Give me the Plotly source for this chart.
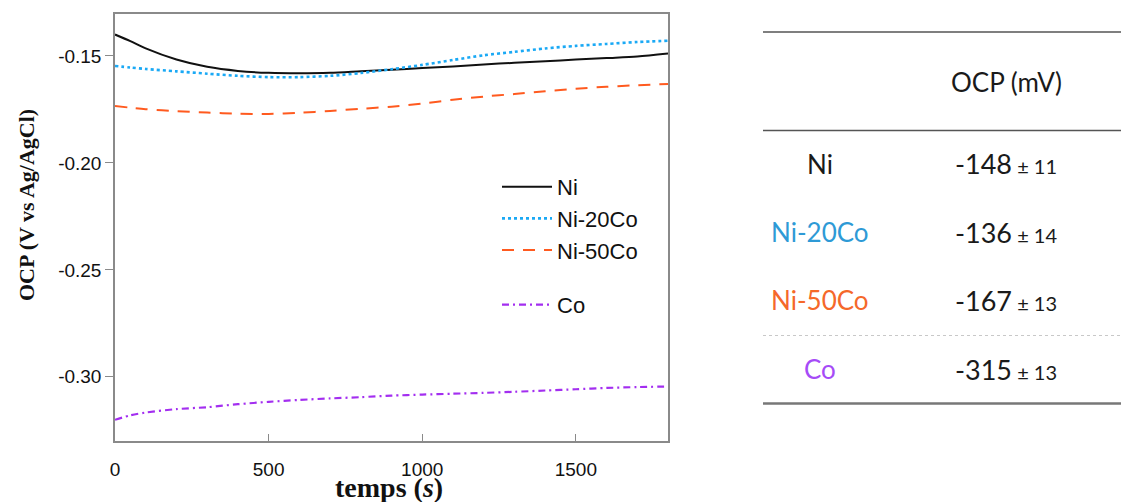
import plotly.graph_objects as go

# ---- data ----
temps = [0, 50, 100, 200, 300, 400, 500, 600, 700, 800, 900, 1000,
         1100, 1200, 1300, 1400, 1500, 1600, 1700, 1800]

ocp_ni = [-0.1400, -0.1431, -0.1465, -0.1517, -0.1551, -0.1570, -0.1579, -0.1581,
          -0.1579, -0.1572, -0.1565, -0.1557, -0.1549, -0.1540, -0.1532, -0.1525,
          -0.1517, -0.1510, -0.1503, -0.1489]
ocp_ni20co = [-0.1547, -0.1554, -0.1561, -0.1572, -0.1583, -0.1593, -0.1599, -0.1599,
              -0.1593, -0.1580, -0.1562, -0.1542, -0.1519, -0.1497, -0.1481, -0.1465,
              -0.1453, -0.1444, -0.1435, -0.1429]
ocp_ni50co = [-0.1734, -0.1742, -0.1749, -0.1758, -0.1765, -0.1770, -0.1771, -0.1766,
              -0.1757, -0.1747, -0.1737, -0.1723, -0.1705, -0.1690, -0.1678, -0.1665,
              -0.1653, -0.1644, -0.1637, -0.1631]
ocp_co = [-0.3201, -0.3180, -0.3167, -0.3151, -0.3142, -0.3128, -0.3117, -0.3108,
          -0.3101, -0.3095, -0.3088, -0.3083, -0.3079, -0.3075, -0.3070, -0.3064,
          -0.3058, -0.3052, -0.3048, -0.3045]

series_names = ["Ni", "Ni-20Co", "Ni-50Co", "Co"]
table_header = "OCP (mV)"
table_means = ["-148", "-136", "-167", "-315"]
table_sd = ["11", "14", "13", "13"]

x_ticks = [0, 500, 1000, 1500]
y_ticks = [-0.30, -0.25, -0.20, -0.15]
y_ticktext = ["-0.30", "-0.25", "-0.20", "-0.15"]

# ---- styles ----
line_colors = ["#111111", "#1AA9F5", "#FF5A1F", "#A32EF0"]
text_colors = ["#1A1A1A", "#2E9AD6", "#F5682A", "#A64BF7"]
dashes = ["solid", "dot", "12px,9px", "7px,4px,2px,4px"]
widths = [2, 2.6, 2, 2.2]
groups = ["a", "a", "a", "b"]

W, H = 1121, 502
L, R, T, B = 115, 668, 14, 441


def px(p):
    return (p - L) / (R - L)


def py(p):
    return (B - p) / (B - T)


fig = go.Figure()
for name, ys, c, d, w, g in zip(series_names, [ocp_ni, ocp_ni20co, ocp_ni50co, ocp_co],
                                line_colors, dashes, widths, groups):
    fig.add_trace(go.Scatter(x=temps, y=ys, mode="lines", name=name,
                             line=dict(color=c, dash=d, width=w, shape="spline", smoothing=0.8),
                             legendgroup=g))

axis_common = dict(showgrid=False, zeroline=False, showline=True, linecolor="#8a8a8a",
                   linewidth=1.5, mirror=True, tickcolor="#8a8a8a", tickwidth=1.2,
                   tickfont=dict(family="Liberation Sans, Arial", size=19, color="#111"))

fig.update_xaxes(range=[0, 1800], tickvals=x_ticks, ticks="inside", ticklen=7,
                 ticklabelstandoff=10, **axis_common)
fig.update_yaxes(range=[-0.33, -0.1304], tickvals=y_ticks, ticktext=y_ticktext,
                 ticks="outside", ticklen=8, **axis_common)

annotations = []
# axis titles
annotations.append(dict(text="<b>OCP (V vs Ag/AgCl)</b>", textangle=-90, xref="paper", yref="paper",
                        x=px(26), y=py(205), xanchor="center", yanchor="middle", showarrow=False,
                        font=dict(family="Liberation Serif, Times New Roman", size=22, color="#111")))
annotations.append(dict(text="<b>temps (<i>s</i>)</b>", xref="paper", yref="paper",
                        x=px(389), y=py(488), xanchor="center", yanchor="middle", showarrow=False,
                        font=dict(family="Liberation Serif, Times New Roman", size=28, color="#111")))

# table
tfont = "Lato, Open Sans, sans-serif"
annotations.append(dict(text=table_header, xref="paper", yref="paper", x=px(1006), y=py(82),
                        xanchor="center", yanchor="middle", showarrow=False,
                        font=dict(family=tfont, size=26, color="#1A1A1A")))
row_y = [164, 232, 300, 369]
for name, m, s, yy, tc in zip(series_names, table_means, table_sd, row_y, text_colors):
    annotations.append(dict(text=name, xref="paper", yref="paper", x=px(820), y=py(yy),
                            xanchor="center", yanchor="middle", showarrow=False,
                            font=dict(family=tfont, size=26, color=tc)))
    annotations.append(dict(text=f"{m}<span style='font-size:20px'> ± {s}</span>",
                            xref="paper", yref="paper", x=px(1006), y=py(yy),
                            xanchor="center", yanchor="middle", showarrow=False,
                            font=dict(family=tfont, size=27, color="#1A1A1A")))

shapes = [
    dict(type="line", xref="paper", yref="paper", x0=px(763), x1=px(1121), y0=py(32), y1=py(32),
         line=dict(color="#555", width=1.5)),
    dict(type="line", xref="paper", yref="paper", x0=px(763), x1=px(1121), y0=py(130.5), y1=py(130.5),
         line=dict(color="#555", width=1.5)),
    dict(type="line", xref="paper", yref="paper", x0=px(763), x1=px(1121), y0=py(335.5), y1=py(335.5),
         line=dict(color="#c8c8c8", width=1, dash="dot")),
    dict(type="line", xref="paper", yref="paper", x0=px(763), x1=px(1121), y0=py(403.5), y1=py(403.5),
         line=dict(color="#777", width=2.5)),
]

fig.update_layout(
    width=W, height=H,
    margin=dict(l=L, r=W - R, t=T, b=H - B),
    paper_bgcolor="white", plot_bgcolor="white",
    showlegend=True,
    legend=dict(x=px(497), y=py(166), xanchor="left", yanchor="top",
                bgcolor="rgba(0,0,0,0)", traceorder="grouped", tracegroupgap=23,
                font=dict(family="Liberation Sans, Arial", size=22, color="#111"),
                itemwidth=50),
    annotations=annotations,
    shapes=shapes,
)

fig.write_html("out.html", config={"displayModeBar": False},
               post_script="document.body.style.margin='0px';document.body.style.overflow='hidden';")
